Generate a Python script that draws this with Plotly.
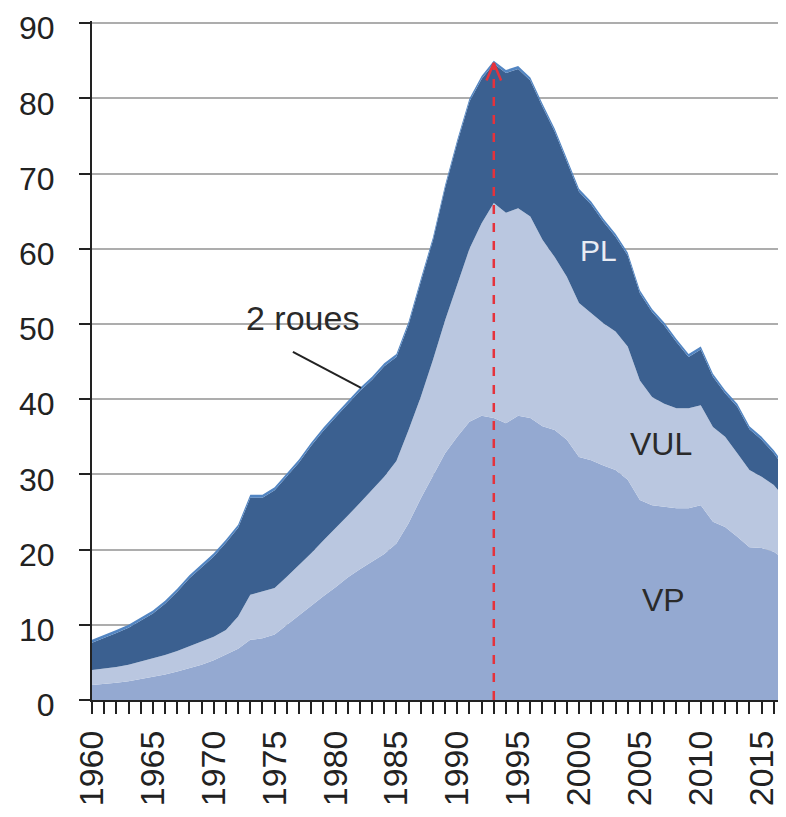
import plotly.graph_objects as go

years = list(range(1960, 2018))

vp = [2.0, 2.1, 2.3, 2.5, 2.8, 3.1, 3.4, 3.8, 4.2, 4.7,
      5.3, 6.0, 6.8, 8.0, 8.2, 8.7, 10.0, 11.3, 12.5, 13.8,
      15.0, 16.3, 17.4, 18.4, 19.4, 20.8, 23.5, 26.8, 29.8, 32.8,
      35.0, 37.0, 37.8, 37.5, 36.8, 37.8, 37.5, 36.4, 35.9, 34.6,
      32.3, 31.9, 31.2, 30.6, 29.3, 26.6, 25.9, 25.7, 25.5, 25.5,
      25.9, 23.7, 23.0, 21.7, 20.3, 20.2, 19.7, 18.6]

vul = [2.0, 2.1, 2.1, 2.2, 2.3, 2.4, 2.6, 2.7, 2.9, 3.0,
       3.1, 3.3, 4.3, 6.0, 6.2, 6.2, 6.4, 6.6, 7.0, 7.4,
       7.8, 8.2, 8.8, 9.6, 10.3, 11.0, 12.4, 13.5, 15.4, 17.7,
       20.4, 23.0, 25.6, 28.6, 28.0, 27.6, 26.8, 24.8, 23.0, 21.7,
       20.5, 19.6, 18.9, 18.4, 17.7, 15.9, 14.4, 13.7, 13.3, 13.3,
       13.3, 12.6, 12.0, 11.1, 10.3, 9.5, 8.9, 8.0]

pl = [3.6, 4.0, 4.5, 4.9, 5.4, 6.0, 6.8, 7.9, 9.1, 9.9,
      10.7, 11.6, 11.8, 12.9, 12.5, 13.0, 13.4, 13.7, 14.3, 14.6,
      14.8, 14.8, 14.9, 14.6, 14.7, 13.8, 14.0, 15.3, 15.9, 17.6,
      18.7, 19.6, 19.2, 18.5, 18.6, 18.5, 18.1, 17.7, 16.7, 15.3,
      14.8, 14.4, 13.5, 12.6, 12.1, 11.6, 11.3, 10.4, 8.8, 6.8,
      7.4, 6.7, 5.8, 6.2, 5.4, 4.9, 4.2, 4.0]

deux_roues = [0.4, 0.4, 0.4, 0.4, 0.4, 0.4, 0.4, 0.4, 0.4, 0.4,
              0.4, 0.4, 0.4, 0.4, 0.4, 0.4, 0.4, 0.4, 0.4, 0.4,
              0.4, 0.4, 0.4, 0.4, 0.4, 0.4, 0.4, 0.4, 0.4, 0.4,
              0.4, 0.4, 0.4, 0.4, 0.4, 0.4, 0.4, 0.4, 0.4, 0.4,
              0.4, 0.4, 0.4, 0.4, 0.4, 0.4, 0.4, 0.4, 0.4, 0.4,
              0.4, 0.4, 0.4, 0.4, 0.4, 0.4, 0.4, 0.4]

series = [
    ("VP", vp, "#94A9D1"),
    ("VUL", vul, "#BAC7E0"),
    ("PL", pl, "#3B6090"),
    ("2 roues", deux_roues, "#5285C2"),
]

y_ticks = [0, 10, 20, 30, 40, 50, 60, 70, 80, 90]
x_label_years = [1960, 1965, 1970, 1975, 1980, 1985, 1990, 1995, 2000, 2005, 2010, 2015]

FONT = "Liberation Sans, Arial, sans-serif"

fig = go.Figure()
for name, vals, color in series:
    fig.add_trace(go.Scatter(
        x=years, y=vals, name=name, mode="lines",
        stackgroup="one", line=dict(width=0, color=color),
        fillcolor=color, hoverinfo="skip",
    ))

totals = [a + b + c + d for a, b, c, d in zip(vp, vul, pl, deux_roues)]
peak_i = max(range(len(totals)), key=lambda i: totals[i])
peak_year = years[peak_i]
peak_val = totals[peak_i]

# red dashed vertical line to peak
fig.add_trace(go.Scatter(
    x=[peak_year, peak_year], y=[0, peak_val - 0.3], mode="lines",
    line=dict(color="#E5323C", width=2.5, dash="dash"),
    hoverinfo="skip", showlegend=False,
))
# chevron arrow head
fig.add_trace(go.Scatter(
    x=[peak_year - 0.6, peak_year, peak_year + 0.6],
    y=[peak_val - 2.6, peak_val - 0.3, peak_val - 2.6], mode="lines",
    line=dict(color="#E5323C", width=2.5),
    hoverinfo="skip", showlegend=False,
))

# "2 roues" pointer
fig.add_shape(type="line", x0=1976.5, y0=46.3, x1=1982.1, y1=41.5,
              line=dict(color="#222222", width=2), layer="above")

fig.add_annotation(x=1977.3, y=50.8, text="2 roues", showarrow=False,
                   font=dict(family=FONT, size=34, color="#2A2A2A"))
fig.add_annotation(x=2001.6, y=59.8, text="PL", showarrow=False,
                   font=dict(family=FONT, size=30, color="#E8ECF4"))
fig.add_annotation(x=2006.7, y=34.0, text="VUL", showarrow=False,
                   font=dict(family=FONT, size=32, color="#2A2A2A"))
fig.add_annotation(x=2006.9, y=13.3, text="VP", showarrow=False,
                   font=dict(family=FONT, size=32, color="#2A2A2A"))

fig.update_layout(
    width=786, height=817,
    margin=dict(l=84, r=8, t=13, b=125),
    plot_bgcolor="white", paper_bgcolor="white",
    showlegend=False,
    font=dict(family=FONT, color="#222222"),
)
fig.update_xaxes(
    range=[1960, 2017],
    automargin=False,
    tickmode="array",
    tickvals=years,
    ticktext=[str(y) if y in x_label_years else "" for y in years],
    tickangle=-90,
    tickfont=dict(family=FONT, size=34, color="#222222"),
    ticks="outside", ticklen=12, tickwidth=2, tickcolor="#222222",
    ticklabelstandoff=3,
    showline=True, linecolor="#222222", linewidth=2,
    showgrid=False, zeroline=False,
)
fig.update_yaxes(
    range=[0, 90.3],
    automargin=False,
    tickmode="array", tickvals=y_ticks,
    tickfont=dict(family=FONT, size=32, color="#222222"),
    ticks="outside", ticklen=11, tickwidth=2, tickcolor="#222222",
    ticklabelstandoff=18, ticklabeloverflow="allow", ticklabelshift=5,
    showline=True, linecolor="#222222", linewidth=2,
    showgrid=True, gridcolor="#ADADAD", gridwidth=2,
    zeroline=False,
)

fig.write_html("out.html")
